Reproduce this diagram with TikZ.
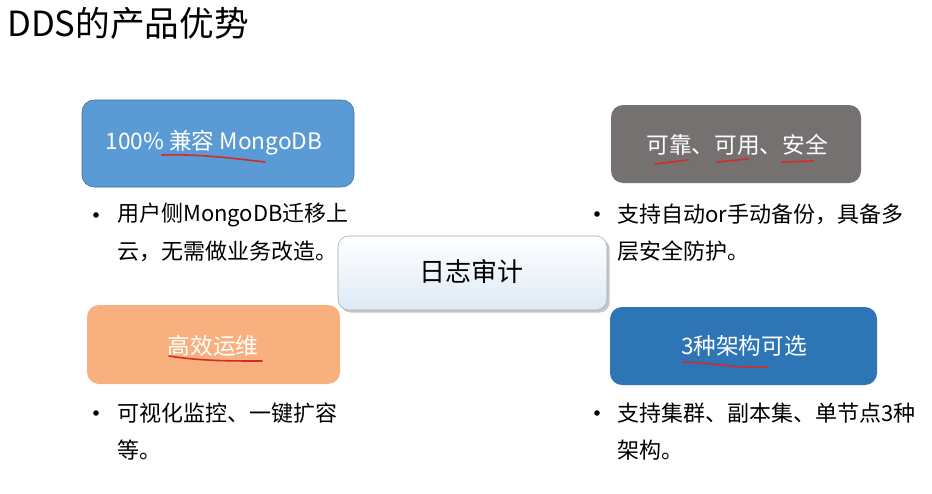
\documentclass[tikz,border=0pt]{standalone}
\usepackage{fontspec}
\usepackage{xcolor}
\usetikzlibrary{shadows}
\newfontfamily\cjk{Noto Sans CJK SC}
\definecolor{box_blue}{HTML}{5B9BD5}
\definecolor{box_blue_edge}{HTML}{41719C}
\definecolor{box_gray}{HTML}{767171}
\definecolor{box_orange}{HTML}{F8B07F}
\definecolor{box_dark}{HTML}{2E75B6}
\definecolor{mark_red}{HTML}{D42A2A}
\definecolor{audit_blue}{HTML}{DCEAF5}

\begin{document}
\begin{tikzpicture}[x=0.75pt, y=-0.75pt,
  every node/.style={font=\cjk},
  feature/.style={rounded corners=9pt, text=white, font=\cjk\fontsize{17}{20}\selectfont},
  body/.style={anchor=west, inner sep=0pt, font=\cjk\fontsize{16.5}{20}\selectfont},
  dot/.style={circle, fill=black, inner sep=0pt, minimum size=4.2pt},
  redline/.style={mark_red, line width=1.2pt, line cap=round}]

  \useasboundingbox (0,0) rectangle (932,493);

  \node[anchor=west, inner sep=0pt, font=\cjk\fontsize{26}{30}\selectfont] (title) at (7,23) {DDS的产品优势};

  % four feature boxes
  \filldraw[feature, fill=box_blue, draw=box_blue_edge] (82,100) rectangle (354,187);
  \node[feature] (compat) at (214,143) {100\% 兼容 MongoDB};

  \fill[feature, fill=box_gray] (611,105) rectangle (861,183);
  \node[feature] (safe) at (737,145) {可靠、可用、安全};

  \fill[feature, fill=box_orange] (87,305) rectangle (340,384);
  \node[feature] (ops) at (213,346) {高效运维};

  \fill[feature, fill=box_dark] (610,307) rectangle (877,385);
  \node[feature] (arch) at (744,346) {3种架构可选};

  % center box
  \shade[top color=white, bottom color=audit_blue, draw=gray!70, rounded corners=8pt,
    drop shadow={shadow xshift=2pt, shadow yshift=-2pt, opacity=0.45}]
    (338,236) rectangle (607,310);
  \node[font=\cjk\fontsize{19.5}{22}\selectfont] (audit) at (471,272) {日志审计};

  % bullet texts
  \node[dot] (d1) at (96,215) {};
  \node[body] (t1a) at (117,215) {用户侧MongoDB迁移上};
  \node[body] (t1b) at (117,251) {云，无需做业务改造。};

  \node[dot] (d2) at (597,214) {};
  \node[body] (t2a) at (617,214) {支持自动or手动备份，具备多};
  \node[body] (t2b) at (617,251) {层安全防护。};

  \node[dot] (d3) at (96,413) {};
  \node[body] (t3a) at (117,413) {可视化监控、一键扩容};
  \node[body] (t3b) at (117,450) {等。};

  \node[dot] (d4) at (597,413) {};
  \node[body] (t4a) at (617,413) {支持集群、副本集、单节点3种};
  \node[body] (t4b) at (617,450) {架构。};

  % red hand marks
  \draw[redline] (162,155) .. controls (200,154) and (230,158) .. (265,162);
  \draw[redline] (655,164) -- (688,160);
  \draw[redline] (717,162) -- (748,159);
  \draw[redline] (782,162) -- (813,161);
  \draw[redline] (169,356) .. controls (200,361) and (230,361) .. (262,361);
  \draw[redline] (683,362) .. controls (710,362) and (725,368) .. (767,367);

\end{tikzpicture}
\end{document}
